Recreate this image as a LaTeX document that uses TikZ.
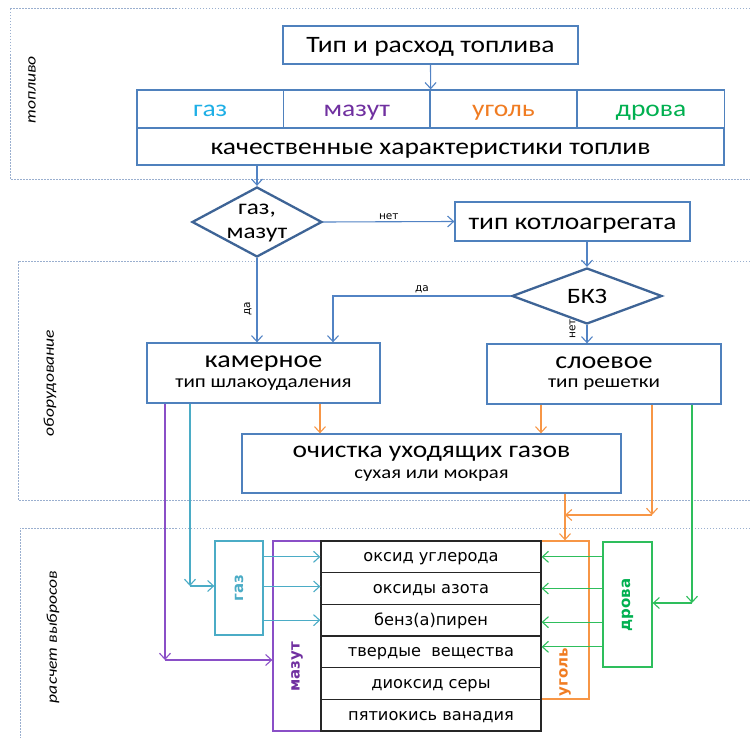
\documentclass[tikz,border=0pt]{standalone}
\usepackage{fontspec}
\setmainfont{Carlito}[FakeStretch=1.17]
\newfontfamily\dv{DejaVu Sans}
\usetikzlibrary{arrows.meta,shapes.geometric}
\definecolor{boxblue}{HTML}{4F81BD}
\definecolor{arrblue}{HTML}{5283C4}
\definecolor{diablue}{HTML}{3E6496}
\definecolor{regc}{HTML}{9AAFCF}
\definecolor{gasc}{HTML}{1EAFE6}
\definecolor{gasbox}{HTML}{4BACC6}
\definecolor{purp}{HTML}{7030A0}
\definecolor{purpbox}{HTML}{8A4FC7}
\definecolor{orng}{HTML}{F07C22}
\definecolor{orngbox}{HTML}{F79646}
\definecolor{grn}{HTML}{00B050}
\definecolor{grnbox}{HTML}{2EBE5C}
\tikzset{
  fs/.style={font=\fontsize{#1}{#1}\selectfont},
  bluebox/.style={draw=boxblue, line width=1.3pt, fill=white, inner sep=0pt, align=center},
  one/.style={text height=16pt, text depth=0pt},
  dia/.style={diamond, draw=diablue, line width=2.3pt, fill=white, inner sep=0pt},
  region/.style={draw=regc, line width=0.9pt, dash pattern=on 1.5pt off 1.5pt},
  tip/.style={-{Straight Barb[length=6pt,width=11pt]}},
  arr/.style={tip, draw=arrblue, line width=1.1pt},
  oarr/.style={tip, draw=orngbox, line width=1.1pt},
  parr/.style={tip, draw=purpbox, line width=1.1pt},
  carr/.style={tip, draw=gasbox, line width=1.1pt},
  garr/.style={tip, draw=grnbox, line width=1.1pt},
  lbl/.style={font=\dv\fontsize{10.5}{10.5}\selectfont, inner sep=2pt},
  reglbl/.style={font=\itshape\fontsize{15}{15}\selectfont, rotate=90},
  row/.style={draw=black!85, line width=1.3pt, minimum width=220pt, minimum height=31.67pt, inner sep=0pt, text height=10pt, text depth=0pt, font=\dv\fontsize{16.2}{16.2}\selectfont},
  vbox/.style={line width=1.3pt, minimum width=48pt, inner sep=0pt},
  vlbl/.style={rotate=90, font=\dv\bfseries\fontsize{15}{15}\selectfont},
}
\begin{document}
\begin{tikzpicture}[x=1pt,y=-1pt]
\useasboundingbox (0,0) rectangle (750,738);
% regions
\draw[region] (750,8) -- (10,8) -- (10,179) -- (750,179);
\draw[region] (750,261) -- (18,261) -- (18,500) -- (750,500);
\draw[region] (750,528) -- (20,528) -- (20,738);
\node[reglbl] (l1) at (32,90) {топливо};
\node[reglbl] (l2) at (50,383) {оборудование};
\node[reglbl] (l3) at (53,637) {расчет выбросов};
% top
\node[bluebox, one, minimum width=295pt, minimum height=38pt, fs=23.5] (tip) at (430.5,45) {Тип и расход топлива};
\node[bluebox, one, minimum width=146.5pt, minimum height=38pt, fs=23.5, text=gasc] (gas) at (210.25,109) {газ};
\node[bluebox, one, minimum width=146.5pt, minimum height=38pt, fs=23.5, text=purp] (maz) at (356.75,109) {мазут};
\node[bluebox, one, minimum width=147pt, minimum height=38pt, fs=23.5, text=orng] (ugl) at (503.5,109) {уголь};
\node[bluebox, one, minimum width=147pt, minimum height=38pt, fs=23.5, text=grn] (drv) at (651,109) {дрова};
\node[bluebox, one, minimum width=587pt, minimum height=37pt, fs=23.5] (qual) at (430.5,146.5) {качественные характеристики топлив};
\draw[arr] (tip.south) -- (maz.north east);
% decisions
\node[dia, minimum width=130pt, minimum height=70pt, label={[fs=21.5, align=center, yshift=-1pt]center:газ,\\[2pt]мазут}] (d1) at (257,222) {};
\draw[arr] (d1.north |- qual.south) -- (d1.north);
\node[bluebox, one, minimum width=235pt, minimum height=39pt, fs=23.5] (kot) at (572.5,221.5) {тип котлоагрегата};
\draw[arr] (d1.east) -- node[lbl, above, pos=0.5] {нет} (kot.west);
\node[dia, minimum width=150pt, minimum height=56pt, label={[fs=22]center:БКЗ}] (bkz) at (587,296) {};
\draw[arr] (bkz.north |- kot.south) -- (bkz.north);
\node[bluebox, minimum width=233pt, minimum height=60pt] (kam) at (263.5,373) {{\fontsize{24}{24}\selectfont камерное}\\[7pt]{\fontsize{18}{18}\selectfont тип шлакоудаления}};
\node[bluebox, minimum width=234pt, minimum height=60pt] (slo) at (604,374) {{\fontsize{24}{24}\selectfont слоевое}\\[7pt]{\fontsize{18}{18}\selectfont тип решетки}};
\draw[arr] (bkz.west) -| node[lbl, above, pos=0.25] {да} ([xshift=69.5pt]kam.north);
\draw[arr] (d1.south) -- node[lbl, rotate=90, above=3pt, pos=0.6] {да} (d1.south |- kam.north);
\draw[arr] (bkz.south) -- node[lbl, rotate=90, above=9pt, pos=0.2] {нет} (bkz.south |- slo.north);
\node[bluebox, minimum width=379pt, minimum height=59pt] (och) at (431.5,463.5) {{\fontsize{23.5}{23.5}\selectfont очистка уходящих газов}\\[7pt]{\fontsize{17.7}{17.7}\selectfont сухая или мокрая}};
\draw[oarr] ([xshift=56.5pt]kam.south) -- ([xshift=56.5pt]kam.south |- och.north);
\draw[oarr] ([xshift=-63pt]slo.south) -- ([xshift=-63pt]slo.south |- och.north);
% bottom table
\node[vbox, draw=purpbox, minimum height=190pt] (mzb) at (297,636) {};
\node[vlbl, text=purp] (mzl) at (297,667) {мазут};
\node[vbox, draw=gasbox, fill=white, minimum height=94pt] (gsb) at (239,588) {};
\node[vlbl, text=gasbox] (gsl) at (239,588) {газ};
\node[vbox, draw=orngbox, minimum height=158pt] (ugb) at (565,620) {};
\node[vlbl, text=orng] (ugl2) at (565,672) {уголь};
\node[vbox, draw=grnbox, minimum width=49pt, minimum height=125pt] (drb) at (627.5,604.5) {};
\node[vlbl, text=grn] (drl) at (627.5,605) {дрова};
\node[row] (r1) at (431,556.83) {оксид углерода};
\node[row] (r2) at (431,588.5) {оксиды азота};
\node[row] (r3) at (431,620.17) {бенз(а)пирен};
\node[row] (r4) at (431,651.83) {твердые\ \ вещества};
\node[row] (r5) at (431,683.5) {диоксид серы};
\node[row] (r6) at (431,715.17) {пятиокись ванадия};
% coloured connectors
\coordinate (pc) at (165,660);
\draw[parr] ([xshift=-98.5pt]kam.south) -- (pc);
\draw[parr] (pc) -- (pc -| mzb.west);
\coordinate (cc) at (190,586);
\draw[carr] ([xshift=-73.5pt]kam.south) -- (cc);
\draw[carr] (cc) -- (cc -| gsb.west);
\draw[carr] (gsb.east |- r1) -- (r1.west);
\draw[carr] ([yshift=2pt]gsb.east |- r2) -- ([yshift=2pt]r2.west);
\draw[carr] (gsb.east |- r3) -- (r3.west);
\coordinate (oc) at (652,515);
\draw[oarr] ([xshift=48pt]slo.south) -- (oc);
\draw[oarr] (oc) -- (oc -| ugb.north);
\draw[oarr] (och.south -| ugb.north) -- (ugb.north);
\coordinate (gc) at (692,603);
\draw[garr] ([xshift=88pt]slo.south) -- (gc);
\draw[garr] (gc) -- (gc -| drb.east);
\draw[garr] (drb.west |- r1) -- (r1.east);
\draw[garr] (drb.west |- r2) -- (r2.east);
\draw[garr] ([yshift=-2pt]drb.west |- r3) -- ([yshift=-2pt]r3.east);
\draw[garr] ([yshift=5pt]drb.west |- r4) -- ([yshift=5pt]r4.east);
\end{tikzpicture}
\end{document}
